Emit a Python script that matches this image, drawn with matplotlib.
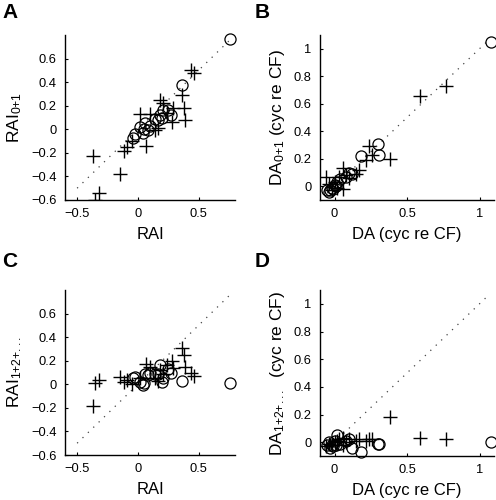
import matplotlib
matplotlib.use("Agg")
import matplotlib.pyplot as plt

plt.rcParams['font.family'] = ['Liberation Sans', 'DejaVu Sans']
plt.rcParams['mathtext.fontset'] = 'custom'
plt.rcParams['mathtext.rm'] = 'Liberation Sans'
plt.rcParams['mathtext.it'] = 'Liberation Sans'
plt.rcParams['mathtext.default'] = 'regular'

# ---- RAI data (panels A and C) ----
rai_cross_x   = [-0.37, -0.35, -0.32, -0.15, -0.11, -0.09, -0.05, 0.07, 0.02, 0.10, 0.14, 0.17, 0.18, 0.21, 0.24, 0.28, 0.29, 0.36, 0.38, 0.39, 0.44, 0.46]
rai01_cross_y = [-0.23, -0.60, -0.54, -0.38, -0.18, -0.15, -0.10, -0.14, 0.13, 0.13, -0.01, 0.01, 0.25, 0.22, 0.14, 0.06, 0.18, 0.29, 0.18, 0.08, 0.50, 0.48]
rai12_cross_y = [-0.18, 0.01, 0.04, 0.06, 0.02, 0.04, 0.00, 0.17, 0.05, 0.15, 0.05, 0.03, 0.12, 0.09, 0.16, 0.20, 0.14, 0.31, 0.25, 0.15, 0.10, 0.07]

rai_circ_x    = [0.76, 0.36, 0.21, 0.25, 0.18, 0.27, 0.17, 0.20, 0.06, 0.02, 0.08, 0.04, -0.04, 0.05, 0.10, 0.14, -0.02]
rai01_circ_y  = [0.77, 0.38, 0.16, 0.16, 0.12, 0.12, 0.08, 0.10, 0.05, 0.02, -0.01, -0.03, -0.07, 0.00, 0.03, 0.09, -0.04]
rai12_circ_y  = [0.01, 0.03, 0.05, 0.13, 0.16, 0.10, 0.09, 0.02, 0.09, 0.02, 0.08, -0.01, 0.05, 0.01, 0.10, 0.09, 0.06]

# ---- DA data (panels B and D) ----
da_cross_x    = [0.77, 0.59, 0.38, 0.24, 0.26, 0.22, 0.17, 0.15, 0.06, 0.03, 0.06, -0.06, -0.04, 0.00, 0.02, -0.02, 0.10, 0.08]
da01_cross_y  = [0.73, 0.66, 0.20, 0.29, 0.23, 0.19, 0.12, 0.09, 0.13, 0.07, -0.02, 0.07, 0.02, 0.03, -0.01, -0.03, 0.06, 0.08]
da12_cross_y  = [0.02, 0.03, 0.18, 0.02, 0.02, 0.01, 0.02, 0.01, 0.03, 0.02, -0.02, -0.03, -0.01, 0.00, 0.01, -0.02, 0.02, 0.00]

da_circ_x     = [1.08, 0.30, 0.31, 0.18, 0.10, 0.12, 0.04, 0.02, 0.00, -0.02, -0.03, -0.04, -0.01, 0.01, -0.05, 0.08]
da01_circ_y   = [1.05, 0.31, 0.23, 0.22, 0.10, 0.09, 0.05, 0.03, 0.01, -0.01, -0.03, -0.04, -0.02, 0.00, -0.03, 0.07]
da12_circ_y   = [0.00, -0.01, -0.01, -0.07, 0.02, -0.04, -0.01, 0.05, 0.01, -0.02, -0.04, 0.00, -0.03, -0.02, -0.02, 0.01]

rai_ticks_x = [-0.5, 0, 0.5]
rai_ticks_y = [-0.6, -0.4, -0.2, 0, 0.2, 0.4, 0.6]
da_ticks_x = [0, 0.5, 1]
da_ticks_y = [0, 0.2, 0.4, 0.6, 0.8, 1]

rai_diag = [-0.5, 0.77]
da_diag = [-0.05, 1.05]

W, H = 496, 500
fig = plt.figure(figsize=(W / 100, H / 100), dpi=100)

def fx(px): return px / W
def fy(py): return 1 - py / H

def make_ax(l, r, t, b):
    return fig.add_axes([fx(l), fy(b), fx(r) - fx(l), fy(t) - fy(b)])

axA = make_ax(65, 235, 35, 200)
axB = make_ax(320, 494, 35, 200)
axC = make_ax(65, 235, 290, 455)
axD = make_ax(320, 494, 290, 456)

def fmt(v):
    s = ('%g' % v)
    return s.replace('-', '\u2212')

def style(ax, xl, yl, xt, yt, xlabel, ylabel, diag, cx, cy, ox, oy):
    ax.plot(diag, diag, linestyle=(0, (1, 5)), color='#444444', lw=0.9, zorder=1)
    ax.plot(cx, cy, linestyle='none', marker='+', ms=10, mew=1.0, color='black', zorder=2)
    ax.plot(ox, oy, linestyle='none', marker='o', ms=8, mew=0.9, mfc='none', mec='black', zorder=3, clip_on=False)
    ax.set_xlim(xl)
    ax.set_ylim(yl)
    ax.set_xticks(xt)
    ax.set_yticks(yt)
    ax.set_xticklabels([fmt(v) for v in xt])
    ax.set_yticklabels([fmt(v) for v in yt])
    for s in ['top', 'right']:
        ax.spines[s].set_visible(False)
    for s in ['left', 'bottom']:
        ax.spines[s].set_linewidth(1.0)
    ax.tick_params(direction='in', length=2, width=0.8, labelsize=9.3, pad=6)
    ax.set_xlabel(xlabel, fontsize=12, labelpad=5)
    ax.set_ylabel(ylabel, fontsize=12.5, labelpad=5)

style(axA, (-0.6, 0.8), (-0.6, 0.8), rai_ticks_x, rai_ticks_y, 'RAI', 'RAI$_{0{+}1}$',
      rai_diag, rai_cross_x, rai01_cross_y, rai_circ_x, rai01_circ_y)
style(axC, (-0.6, 0.8), (-0.6, 0.8), rai_ticks_x, rai_ticks_y, 'RAI', 'RAI$_{1{+}2{+}...}$',
      rai_diag, rai_cross_x, rai12_cross_y, rai_circ_x, rai12_circ_y)
style(axB, (-0.1, 1.1), (-0.1, 1.1), da_ticks_x, da_ticks_y, 'DA (cyc re CF)', 'DA$_{0{+}1}$ (cyc re CF)',
      da_diag, da_cross_x, da01_cross_y, da_circ_x, da01_circ_y)
style(axD, (-0.1, 1.1), (-0.1, 1.1), da_ticks_x, da_ticks_y, 'DA (cyc re CF)', 'DA$_{1{+}2{+}...}$  (cyc re CF)',
      da_diag, da_cross_x, da12_cross_y, da_circ_x, da12_circ_y)

for lab, px, py in [('A', 2, 3), ('B', 255, 3), ('C', 2, 252), ('D', 255, 252)]:
    fig.text(fx(px), fy(py), lab, fontsize=15, fontweight='bold', ha='left', va='top')

fig.savefig('out.png', dpi=100)
